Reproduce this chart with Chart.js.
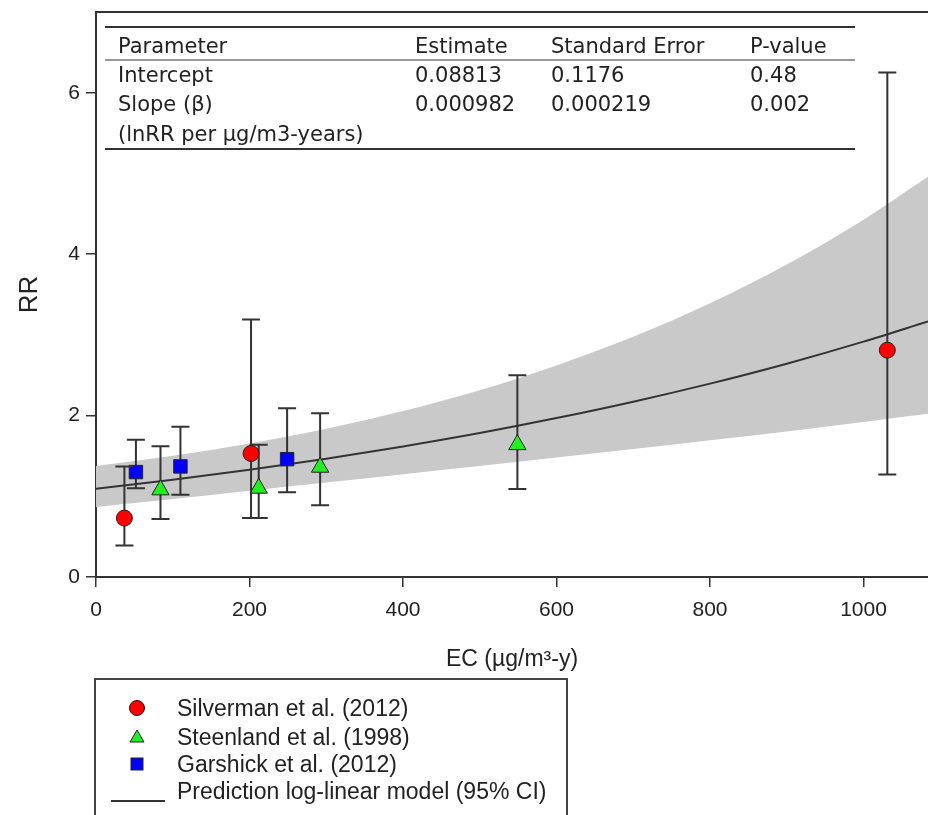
<!DOCTYPE html>
<html><head><meta charset="utf-8">
<script src="https://cdn.jsdelivr.net/npm/chart.js@4.4.0/dist/chart.umd.min.js"></script>
<style>
html,body{margin:0;padding:0;background:#fff;}
#wrap{position:relative;width:928px;height:815px;overflow:hidden;}
#c{position:absolute;left:0;top:0;}
.t{position:absolute;font-family:"DejaVu Sans",Verdana,sans-serif;font-size:21px;color:#222;line-height:24px;white-space:nowrap;}
.hl{position:absolute;left:105px;width:750px;}
#legend{position:absolute;left:94px;top:678px;width:474px;height:160px;border:2px solid #444;box-sizing:border-box;}
.lt{position:absolute;font-family:"Liberation Sans",Arial,sans-serif;font-size:23px;color:#222;line-height:26px;white-space:nowrap;}
.lm{position:absolute;}
</style>
</head><body>
<div id="wrap">
<canvas id="c" width="928" height="815"></canvas>
<div class="hl" style="top:26px;height:2px;background:#333"></div>
<div class="hl" style="top:59px;height:2px;background:#999"></div>
<div class="hl" style="top:148px;height:2px;background:#333"></div>
<div id="tbl"></div>
<div id="legend"></div>
</div>
<script>
// ---- data ----
const silvermanX  = [37, 202, 1031];
const silvermanRR = [0.73, 1.53, 2.81];
const silvermanLo = [0.39, 0.73, 1.27];
const silvermanHi = [1.37, 3.19, 6.25];

const steenlandX  = [84, 212, 292, 549];
const steenlandRR = [1.08, 1.10, 1.36, 1.64];
const steenlandLo = [0.72, 0.73, 0.89, 1.09];
const steenlandHi = [1.62, 1.64, 2.03, 2.50];

const garshickX  = [52, 110, 249];
const garshickRR = [1.30, 1.37, 1.46];
const garshickLo = [1.10, 1.02, 1.05];
const garshickHi = [1.70, 1.86, 2.09];

const curveX  = [0, 100, 200, 300, 400, 500, 600, 700, 800, 900, 1000, 1084];
const curveRR = [1.092, 1.205, 1.329, 1.466, 1.618, 1.784, 1.969, 2.172, 2.396, 2.643, 2.916, 3.166];
const curveLo = [0.867, 0.966, 1.068, 1.170, 1.273, 1.375, 1.479, 1.585, 1.693, 1.804, 1.921, 2.022];
const curveHi = [1.375, 1.503, 1.655, 1.837, 2.056, 2.314, 2.621, 2.976, 3.391, 3.872, 4.427, 4.958];

const xTicks = [0, 200, 400, 600, 800, 1000];
const yTicks = [0, 2, 4, 6];

const legendLabels = ['Silverman et al. (2012)', 'Steenland et al. (1998)', 'Garshick et al. (2012)', 'Prediction log-linear model (95% CI)'];
const tableHeader = ['Parameter', 'Estimate', 'Standard Error', 'P-value'];
const tableRows = [
  ['Intercept', '0.08813', '0.1176', '0.48'],
  ['Slope (β)', '0.000982', '0.000219', '0.002'],
  ['(lnRR per µg/m3-years)', '', '', '']
];

// ---- table ----
const colX = [118, 415, 551, 750];
const rowY = [46, 75, 104, 134];
const tbl = document.getElementById('tbl');
[tableHeader].concat(tableRows).forEach((row, r) => {
  row.forEach((txt, c) => {
    if (!txt) return;
    const d = document.createElement('div');
    d.className = 't';
    d.style.left = colX[c] + 'px';
    d.style.top = (rowY[r] - 12) + 'px';
    d.textContent = txt;
    tbl.appendChild(d);
  });
});

// ---- legend ----
const lg = document.getElementById('legend');
const legRows = [708, 737, 764, 791];
const markers = [
  '<svg width="18" height="18"><circle cx="9" cy="9" r="7.5" fill="#ff0000" stroke="#300" stroke-width="1"/></svg>',
  '<svg width="18" height="18"><polygon points="9,2 16,14 2,14" fill="#22ee22" stroke="#222" stroke-width="1"/></svg>',
  '<svg width="18" height="18"><rect x="3" y="3" width="12" height="12" fill="#0000ff" stroke="#222" stroke-width="1"/></svg>',
  '<svg width="54" height="4"><line x1="0" y1="2" x2="54" y2="2" stroke="#333" stroke-width="2"/></svg>'
];
legendLabels.forEach((txt, i) => {
  const m = document.createElement('div');
  m.className = 'lm';
  if (i < 3) { m.style.left = (137 - 9 - 96) + 'px'; m.style.top = (legRows[i] - 9 - 680) + 'px'; }
  else { m.style.left = (111 - 96) + 'px'; m.style.top = (legRows[i] - 2 - 680) + 'px'; }
  m.innerHTML = markers[i];
  lg.appendChild(m);
  const t = document.createElement('div');
  t.className = 'lt';
  t.style.left = (177 - 96) + 'px';
  t.style.top = (legRows[i] - 13 - 680) + 'px';
  t.textContent = txt;
  lg.appendChild(t);
});

// ---- chart ----
const pts = (xs, ys) => xs.map((x, i) => ({x: x, y: ys[i]}));

const errorBarPlugin = {
  id: 'errbars',
  beforeDatasetDraw(chart, args) {
    const ds = chart.data.datasets[args.index];
    if (!ds.errLo) return;
    const {ctx, scales: {x, y}} = chart;
    ctx.save();
    ctx.strokeStyle = '#333';
    ctx.lineWidth = 2;
    ds.data.forEach((p, i) => {
      const px = x.getPixelForValue(p.x);
      const lo = y.getPixelForValue(ds.errLo[i]);
      const hi = y.getPixelForValue(ds.errHi[i]);
      ctx.beginPath();
      ctx.moveTo(px, lo); ctx.lineTo(px, hi);
      ctx.moveTo(px - 9, lo); ctx.lineTo(px + 9, lo);
      ctx.moveTo(px - 9, hi); ctx.lineTo(px + 9, hi);
      ctx.stroke();
    });
    ctx.restore();
  }
};
const framePlugin = {
  id: 'frame',
  afterDraw(chart) {
    const {ctx, chartArea: a} = chart;
    ctx.save();
    ctx.strokeStyle = '#333';
    ctx.lineWidth = 2;
    ctx.beginPath();
    ctx.moveTo(a.left - 1, a.top);
    ctx.lineTo(a.right, a.top);
    ctx.stroke();
    ctx.restore();
  }
};

const scatterCommon = {borderColor: '#222', borderWidth: 1, order: 0};
const tickFont = {family: '"Liberation Sans", Arial, sans-serif', size: 21};
new Chart(document.getElementById('c'), {
  type: 'scatter',
  data: {
    datasets: [
      Object.assign({label: legendLabels[0], data: pts(silvermanX, silvermanRR), errLo: silvermanLo, errHi: silvermanHi,
        pointStyle: 'circle', pointRadius: 8, backgroundColor: '#ff0000'}, scatterCommon),
      Object.assign({label: legendLabels[1], data: pts(steenlandX, steenlandRR), errLo: steenlandLo, errHi: steenlandHi,
        pointStyle: 'triangle', pointRadius: 10, backgroundColor: '#22ee22'}, scatterCommon),
      Object.assign({label: legendLabels[2], data: pts(garshickX, garshickRR), errLo: garshickLo, errHi: garshickHi,
        pointStyle: 'rect', pointRadius: 9.5, backgroundColor: '#0000ff'}, scatterCommon),
      {type: 'line', label: legendLabels[3], data: pts(curveX, curveRR), borderColor: '#333', borderWidth: 2,
        pointRadius: 0, showLine: true, fill: false, cubicInterpolationMode: 'monotone', order: 1},
      {type: 'line', label: 'lower', data: pts(curveX, curveLo), borderColor: 'rgba(0,0,0,0)', borderWidth: 0,
        pointRadius: 0, showLine: true, fill: false, cubicInterpolationMode: 'monotone', order: 2},
      {type: 'line', label: 'upper', data: pts(curveX, curveHi), borderColor: 'rgba(0,0,0,0)', borderWidth: 0,
        pointRadius: 0, showLine: true, fill: 4, backgroundColor: '#c9c9c9', cubicInterpolationMode: 'monotone', order: 2}
    ]
  },
  options: {
    responsive: false,
    animation: false,
    events: [],
    layout: {autoPadding: false, padding: {top: 12, right: 0, bottom: 138, left: 0}},
    plugins: {legend: {display: false}, tooltip: {enabled: false}},
    scales: {
      x: {
        type: 'linear', min: 0, max: 1084,
        afterFit(s) { s.height = 100; s.paddingLeft = 0; s.paddingRight = 0; },
        afterBuildTicks(s) { s.ticks = xTicks.map(v => ({value: v})); },
        ticks: {includeBounds: false, padding: 11, color: '#222', font: tickFont, callback: v => String(v)},
        grid: {drawOnChartArea: false, drawTicks: true, tickLength: 10, color: '#333', lineWidth: 1.5},
        border: {display: true, color: '#333', width: 2},
        title: {display: true, text: 'EC (µg/m³-y)', color: '#222', padding: {top: 0, bottom: 4},
          font: {family: '"Liberation Sans", Arial, sans-serif', size: 23}}
      },
      y: {
        type: 'linear', min: 0, max: 7,
        afterFit(s) { s.width = 96; s.paddingTop = 0; s.paddingBottom = 0; },
        afterBuildTicks(s) { s.ticks = yTicks.map(v => ({value: v})); },
        ticks: {includeBounds: false, padding: 6, color: '#222', font: tickFont, callback: v => String(v)},
        grid: {drawOnChartArea: false, drawTicks: true, tickLength: 10, color: '#333', lineWidth: 1.5},
        border: {display: true, color: '#333', width: 2},
        title: {display: true, text: 'RR', color: '#222', padding: {top: 14, bottom: 0},
          font: {family: '"Liberation Sans", Arial, sans-serif', size: 26}}
      }
    }
  },
  plugins: [errorBarPlugin, framePlugin]
});
</script>
</body></html>
